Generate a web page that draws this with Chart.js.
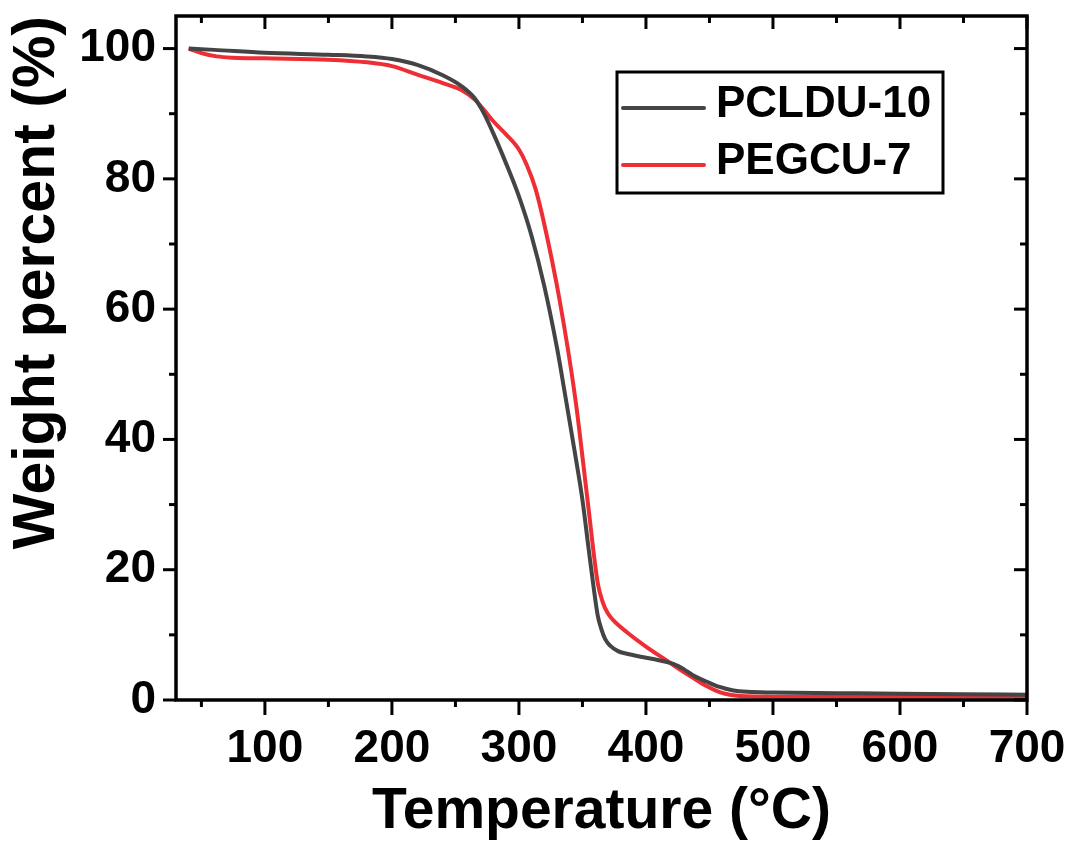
<!DOCTYPE html>
<html>
<head>
<meta charset="utf-8">
<script src="https://cdn.jsdelivr.net/npm/chart.js@4.4.1/dist/chart.umd.min.js"></script>
<style>
  html, body { margin: 0; padding: 0; background: #fff; }
  #wrap { width: 1070px; height: 846px; }
</style>
</head>
<body>
<div id="wrap"><canvas id="tga"></canvas></div>
<script>
// TGA curves (temperature in °C, weight in %)
const pcldu10Temp = [40, 60, 100, 150, 180, 200, 220, 240, 255, 265, 272, 280, 290, 300, 310, 320, 330, 337, 344, 350, 355, 359, 362, 365, 368, 372, 378, 385, 397, 410, 422, 430, 437, 448, 458, 468, 480, 500, 550, 600, 650, 700];
const pcldu10Weight = [100, 99.8, 99.35, 99.05, 98.8, 98.4, 97.5, 95.9, 94.2, 92.4, 90.2, 86.9, 82.3, 77.3, 71.2, 63.5, 54.0, 46.1, 38.0, 30.7, 23.0, 17.0, 13.0, 10.8, 9.3, 8.3, 7.5, 7.1, 6.6, 6.1, 5.5, 4.7, 3.8, 2.8, 2.0, 1.5, 1.25, 1.15, 1.05, 0.95, 0.9, 0.8];

const pegcu7Temp = [40, 50, 62, 75, 100, 150, 180, 200, 220, 240, 255, 265, 272, 280, 290, 300, 306, 313, 320, 332, 344.5, 354, 362, 366, 370, 374, 385, 400, 419, 428, 437, 448, 458, 466, 474, 500, 600, 700];
const pegcu7Weight = [100, 99.3, 98.8, 98.6, 98.5, 98.3, 97.9, 97.3, 96.0, 94.7, 93.6, 92.2, 90.7, 88.8, 86.8, 84.5, 82.2, 78.5, 73.0, 61.4, 46.1, 30.7, 18.0, 15.0, 13.3, 12.3, 10.4, 8.2, 5.7, 4.5, 3.4, 2.1, 1.2, 0.8, 0.6, 0.5, 0.5, 0.5];

const seriesLabels = ['PCLDU-10', 'PEGCU-7'];
const seriesColors = ['#444444', '#ee2e34'];

const xMajorTicks = [100, 200, 300, 400, 500, 600, 700];
const xMinorTicks = [50, 150, 250, 350, 450, 550, 650];
const yMajorTicks = [0, 20, 40, 60, 80, 100];
const yMinorTicks = [10, 30, 50, 70, 90];

const FONT = "'Liberation Sans', Arial, sans-serif";

const toPoints = (xs, ys) => xs.map((x, i) => ({ x: x, y: ys[i] }));

// Frame, inward/outward ticks and the boxed legend
const framePlugin = {
    id: 'frame',
    afterDraw(chart) {
        const ctx = chart.ctx;
        const a = chart.chartArea;
        const xs = chart.scales.x;
        const ys = chart.scales.y;
        const major = 13, minor = 7;

        ctx.save();
        ctx.strokeStyle = '#000';
        ctx.lineWidth = 3;
        ctx.lineCap = 'butt';

        const tick = (x1, y1, x2, y2) => {
            ctx.beginPath();
            ctx.moveTo(x1, y1);
            ctx.lineTo(x2, y2);
            ctx.stroke();
        };

        xMajorTicks.forEach(v => {
            const px = xs.getPixelForValue(v);
            tick(px, a.bottom, px, a.bottom + major + 2);
            tick(px, a.top, px, a.top + major);
        });
        xMinorTicks.forEach(v => {
            const px = xs.getPixelForValue(v);
            tick(px, a.bottom, px, a.bottom + minor);
            tick(px, a.top, px, a.top + minor);
        });
        yMajorTicks.forEach(v => {
            const py = ys.getPixelForValue(v);
            tick(a.left, py, a.left - major, py);
            tick(a.right, py, a.right - major, py);
        });
        yMinorTicks.forEach(v => {
            const py = ys.getPixelForValue(v);
            tick(a.left, py, a.left - minor, py);
            tick(a.right, py, a.right - minor, py);
        });

        ctx.lineWidth = 3.5;
        ctx.strokeRect(a.left, a.top, a.right - a.left, a.bottom - a.top);

        // legend box inside the plot
        const bx = a.left + 441, by = a.top + 56, bw = 326, bh = 121;
        ctx.lineWidth = 3;
        ctx.strokeRect(bx, by, bw, bh);
        ctx.font = 'bold 44px ' + FONT;
        ctx.textBaseline = 'middle';
        ctx.textAlign = 'left';
        seriesLabels.forEach((lab, i) => {
            const ly = by + 36 + i * 57;
            ctx.strokeStyle = seriesColors[i];
            ctx.lineWidth = 4;
            ctx.lineCap = 'round';
            tick(bx + 6, ly, bx + 87, ly);
            ctx.fillStyle = '#000';
            ctx.fillText(lab, bx + 99, ly - 3);
        });
        ctx.restore();
    }
};

new Chart(document.getElementById('tga'), {
    type: 'line',
    data: {
        datasets: [
            {
                label: seriesLabels[0],
                data: toPoints(pcldu10Temp, pcldu10Weight),
                borderColor: seriesColors[0],
                borderWidth: 4,
                pointRadius: 0,
                cubicInterpolationMode: 'monotone',
                fill: false
            },
            {
                label: seriesLabels[1],
                data: toPoints(pegcu7Temp, pegcu7Weight),
                borderColor: seriesColors[1],
                borderWidth: 4,
                pointRadius: 0,
                cubicInterpolationMode: 'monotone',
                fill: false
            }
        ]
    },
    options: {
        responsive: true,
        maintainAspectRatio: false,
        animation: false,
        layout: { padding: { left: 0, right: 43, top: 16, bottom: 0 } },
        plugins: {
            legend: { display: false },
            tooltip: { enabled: false }
        },
        scales: {
            x: {
                type: 'linear',
                min: 30,
                max: 700,
                grid: { display: false },
                border: { display: false },
                afterBuildTicks: s => { s.ticks = xMajorTicks.map(v => ({ value: v })); },
                afterFit: s => {
                    s.height = 146;
                    s.paddingLeft = 0;
                    s.paddingRight = 0;
                },
                ticks: {
                    color: '#000',
                    padding: 14,
                    maxRotation: 0,
                    autoSkip: false,
                    font: { family: FONT, size: 46, weight: 'bold' }
                },
                title: {
                    display: true,
                    text: 'Temperature (°C)',
                    color: '#000',
                    padding: { top: 1, bottom: 0 },
                    font: { family: FONT, size: 57, weight: 'bold' }
                }
            },
            y: {
                min: 0,
                max: 105,
                grid: { display: false },
                border: { display: false },
                afterBuildTicks: s => { s.ticks = yMajorTicks.map(v => ({ value: v })); },
                afterFit: s => {
                    s.width = 176;
                    s.paddingTop = 0;
                    s.paddingBottom = 0;
                },
                ticks: {
                    color: '#000',
                    padding: 12,
                    autoSkip: false,
                    font: { family: FONT, size: 46, weight: 'bold' }
                },
                title: {
                    display: true,
                    text: 'Weight percent (%)',
                    color: '#000',
                    align: 'end',
                    padding: { top: 2, bottom: 0 },
                    font: { family: FONT, size: 59, weight: 'bold' }
                }
            }
        }
    },
    plugins: [framePlugin]
});
</script>
</body>
</html>
